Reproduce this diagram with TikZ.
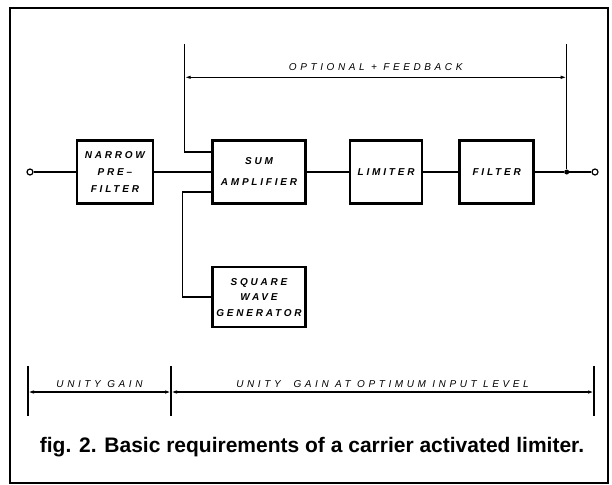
\documentclass[tikz,border=0pt]{standalone}
\usepackage{fontspec}
\usetikzlibrary{arrows.meta,positioning}
\newfontfamily\letterfont[LetterSpace=28]{Liberation Sans}
\newfontfamily\dimfont[LetterSpace=36]{Liberation Sans}
\newfontfamily\captionfont{Liberation Sans}
\tikzset{block/.style = {draw, rectangle, line width = 2.6pt, minimum height = 63pt, align = center,
                         font = \letterfont\bfseries\itshape\fontsize{10}{17}\selectfont},
         term/.style = {draw, circle, line width = 1.2pt, inner sep = 0pt, minimum size = 6pt},
         junc/.style = {fill, circle, inner sep = 0pt, minimum size = 5pt},
         input/.style = {coordinate},
         wire/.style = {line width = 1.3pt},
         dim/.style = {line width = 1.2pt, {Latex[length = 6pt, width = 3.5pt]}-{Latex[length = 6pt, width = 3.5pt]}},
         dimlabel/.style = {above, inner sep = 4pt, font = \dimfont\itshape\fontsize{10}{12}\selectfont},
}

\begin{document}
\begin{tikzpicture}[x = 1pt, y = -1pt]
  \useasboundingbox (0,0) rectangle (612,484);
  \draw[line width = 2.2pt] (10,8) rectangle (608,483);

  \node[term] (in) at (30,172) {};
  \node[block, right = 42pt of in, minimum width = 76pt] (PRE) {NARROW\\PRE–\\FILTER};
  \node[block, right = 57pt of PRE, minimum width = 93pt] (SUM) {SUM\\[4pt]AMPLIFIER};
  \node[block, right = 42pt of SUM, minimum width = 72pt] (LIM) {LIMITER};
  \node[block, right = 35pt of LIM, minimum width = 74pt] (FILT) {FILTER};
  \node[junc, right = 29pt of FILT] (dot) {};
  \node[term, right = 22pt of dot] (out) {};

  \node[block, below = 61pt of SUM, minimum width = 93pt, minimum height = 60pt,
        font = \letterfont\bfseries\itshape\fontsize{10}{15.5}\selectfont] (SQW) {SQUARE\\WAVE\\GENERATOR};

  \node[input, above = 125pt of dot] (fbr) {};
  \node[input, left = 382pt of fbr] (fbl) {};

  \node[input] (gl) at (28,392) {};
  \node[input, right = 143pt of gl] (gm) {};
  \node[input, right = 423pt of gm] (gr) {};

  \draw[wire] (in) -- (PRE);
  \draw[wire] (PRE) -- (SUM);
  \draw[wire] (SUM) -- (LIM);
  \draw[wire] (LIM) -- (FILT);
  \draw[wire] (FILT) -- (dot);
  \draw[wire] (dot) -- (out);

  \draw[wire] (fbr) -- (dot);
  \draw[wire] (fbl) |- ([yshift = 20pt]SUM.west);
  \draw[wire] (SQW.west) -| ([xshift = -29pt, yshift = -20pt]SUM.west) -- ([yshift = -20pt]SUM.west);

  \draw[dim] ([yshift = -33pt]fbl) -- node[dimlabel, yshift = 2pt] {OPTIONAL + FEEDBACK} ([yshift = -33pt]fbr);

  \foreach \g in {gl, gm, gr}
    \draw[wire] ([yshift = 26pt]\g) -- ([yshift = -24pt]\g);
  \draw[dim] (gl) -- node[dimlabel] {UNITY GAIN} (gm);
  \draw[dim] (gm) -- node[dimlabel] {UNITY\ \ GAIN AT OPTIMUM INPUT LEVEL} (gr);

  \node[anchor = base, font = \captionfont\bfseries\fontsize{21}{24}\selectfont] (caption) at (312,452)
    {fig. 2. Basic requirements of a carrier activated limiter.};
\end{tikzpicture}
\end{document}
